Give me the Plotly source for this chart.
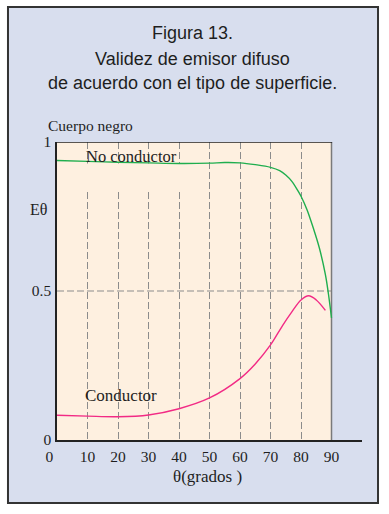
import plotly.graph_objects as go

# ---- data ----
theta_nc = [0, 10, 20, 30, 40, 50, 55, 60, 65, 70, 73, 75, 77, 79, 80, 82, 84, 86, 88, 89, 90]
e_nc = [0.938, 0.935, 0.932, 0.930, 0.928, 0.929, 0.931, 0.930, 0.924, 0.915, 0.904,
        0.889, 0.868, 0.836, 0.818, 0.772, 0.712, 0.645, 0.555, 0.490, 0.410]

theta_c = [0, 10, 20, 30, 40, 50, 60, 65, 70, 74, 77, 80, 82.5, 85, 88]
e_c = [0.083, 0.080, 0.078, 0.084, 0.105, 0.141, 0.206, 0.255, 0.319, 0.385, 0.430,
       0.470, 0.484, 0.470, 0.435]

x_ticks = [0, 10, 20, 30, 40, 50, 60, 70, 80, 90]
x_ticktext = ["0\u00a0\u00a0\u00a0\u00a0", "10", "20", "30", "40", "50", "60", "70", "80", "90"]
y_ticks = [0, 0.5, 1]
y_ticktext = ["0", "0.5", "1"]

title_lines = ["Figura 13.", "Validez de emisor difuso", "de acuerdo con el tipo de superficie."]

SERIF = "Liberation Serif"
SANS = "Liberation Sans"
TXT = "#1e1e1e"

fig = go.Figure()
fig.add_trace(go.Scatter(x=theta_nc, y=e_nc, mode="lines", line=dict(color="#1fae4e", width=1.4, shape="spline"),
                         showlegend=False, hoverinfo="skip"))
fig.add_trace(go.Scatter(x=theta_c, y=e_c, mode="lines", line=dict(color="#f22a85", width=1.4, shape="spline"),
                         showlegend=False, hoverinfo="skip"))

shapes = []
# outer lavender frame
shapes.append(dict(type="rect", xref="paper", yref="paper", x0=-0.1607, x1=1.0525, y0=-0.2114, y1=1.453,
                   fillcolor="#d8deee", line=dict(color="#333333", width=2), layer="below"))
# beige plot area
shapes.append(dict(type="rect", xref="x", yref="y", x0=0, x1=90, y0=0, y1=1,
                   fillcolor="#fef0e0", line=dict(width=0), layer="below"))
# horizontal dashed line at 0.5
shapes.append(dict(type="line", xref="x", yref="y", x0=0, x1=90, y0=0.5, y1=0.5,
                   line=dict(color="#8c8c8c", width=1.2, dash="7px,3px"), layer="between"))
# gap in gridlines under label
shapes.append(dict(type="rect", xref="x", yref="y", x0=5, x1=45, y0=0.837, y1=0.928,
                   fillcolor="#fef0e0", line=dict(width=0), layer="between"))
# right border (grey) and top border (dark)
shapes.append(dict(type="line", xref="x", yref="y", x0=90, x1=90, y0=0, y1=1,
                   line=dict(color="#7a7a7a", width=1.5), layer="between"))
shapes.append(dict(type="line", xref="x", yref="y", x0=0, x1=90.2, y0=1, y1=1,
                   line=dict(color="#222222", width=1.5), layer="between"))

annotations = []
title_y = [1.366, 1.2785, 1.198]
for t, yy in zip(title_lines, title_y):
    annotations.append(dict(text=t, xref="paper", yref="paper", x=0.444, y=yy, showarrow=False,
                            xanchor="center", yanchor="middle", font=dict(family=SANS, size=18, color=TXT)))
annotations += [
    dict(text="Cuerpo negro", xref="paper", yref="paper", x=0.110, y=1.056, showarrow=False,
         xanchor="center", yanchor="middle", font=dict(family=SERIF, size=15.5, color=TXT)),
    dict(text="Eθ", xref="paper", yref="paper", x=-0.062, y=0.772, showarrow=False,
         xanchor="center", yanchor="middle", font=dict(family=SERIF, size=16, color=TXT)),
    dict(text="No conductor", xref="x", yref="y", x=24.4, y=0.951, showarrow=False,
         xanchor="center", yanchor="middle", font=dict(family=SERIF, size=16.5, color=TXT)),
    dict(text="Conductor", xref="x", yref="y", x=21.0, y=0.151, showarrow=False,
         xanchor="center", yanchor="middle", font=dict(family=SERIF, size=17, color=TXT)),
    dict(text="θ(grados )", xref="paper", yref="paper", x=0.495, y=-0.124, showarrow=False,
         xanchor="center", yanchor="middle", font=dict(family=SERIF, size=17, color=TXT)),
]

fig.update_layout(
    width=389, height=514,
    margin=dict(l=57, r=27, t=142, b=74),
    paper_bgcolor="white",
    plot_bgcolor="rgba(0,0,0,0)",
    shapes=shapes,
    annotations=annotations,
    xaxis=dict(range=[0, 100], tickvals=x_ticks, ticktext=x_ticktext, showgrid=True,
               gridcolor="#8c8c8c", griddash="7px,3px", gridwidth=1.2,
               showline=True, linecolor="#222222", linewidth=1.5, zeroline=False,
               ticks="", ticklabelstandoff=2, tickfont=dict(family=SERIF, size=15.5, color=TXT),
               fixedrange=True),
    yaxis=dict(range=[0, 1], tickvals=y_ticks, ticktext=y_ticktext, showgrid=False,
               showline=True, linecolor="#222222", linewidth=1.5, zeroline=False,
               ticks="", ticklen=0, ticklabelstandoff=1, tickfont=dict(family=SERIF, size=15.5, color=TXT),
               fixedrange=True),
)

fig.write_html("out.html", config={"displayModeBar": False},
               post_script="document.body.style.margin='0';document.body.style.overflow='hidden';")
